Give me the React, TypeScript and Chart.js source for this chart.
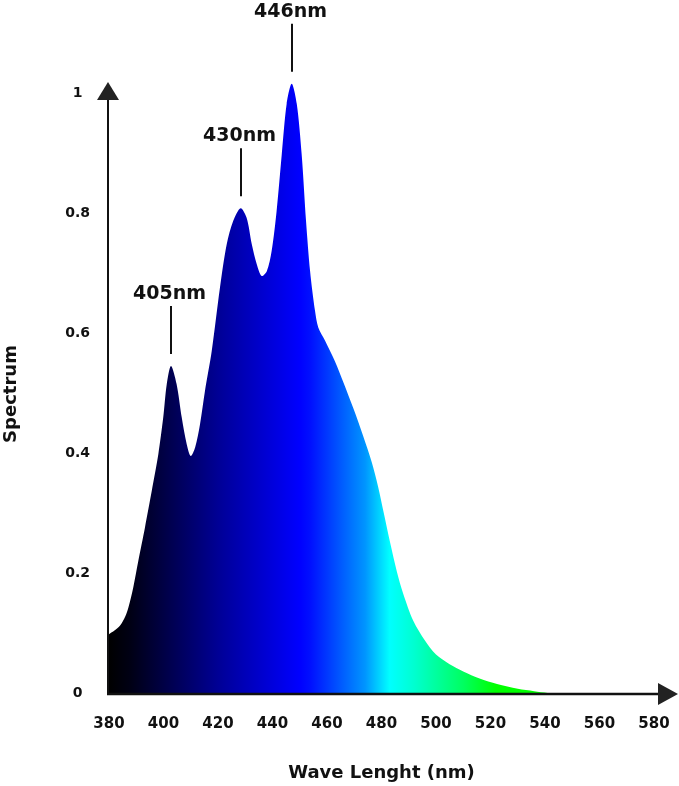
import React, { useEffect, useRef } from "react";
import { Chart, registerables } from "chart.js";

Chart.register(...registerables);

// ---- data ----
const wavelengths = [
  380, 382, 384, 386, 387.1, 388.9, 390.75, 393.2, 395.7, 398.1,
  399.9, 401.2, 402.75, 404.8, 406.7, 408.5, 410, 411.6, 413.4, 415.2,
  417.7, 420.7, 423.2, 425.6, 428.3, 430.5, 432.4, 434.2, 436, 437.9,
  439.7, 441.5, 443.4, 445.2, 447.05, 448.9, 450.7, 452.3, 453.8, 455.6,
  456.8, 459.3, 462.9, 466, 469.7, 473.3, 476.4, 478.8, 480.7, 483.1,
  485.6, 488, 491.7, 496, 500, 505, 510, 516, 522.4, 530,
  536, 541,
];
const spectrum = [
  0.098, 0.104, 0.112, 0.128, 0.142, 0.176, 0.22, 0.276, 0.337, 0.398,
  0.459, 0.515, 0.545, 0.515, 0.459, 0.415, 0.395, 0.409, 0.448, 0.503,
  0.57, 0.675, 0.748, 0.787, 0.808, 0.792, 0.748, 0.715, 0.695, 0.703,
  0.737, 0.803, 0.898, 0.982, 1.0155, 0.982, 0.898, 0.787, 0.703, 0.637,
  0.609, 0.587, 0.553, 0.518, 0.474, 0.428, 0.385, 0.343, 0.303, 0.252,
  0.203, 0.165, 0.12, 0.087, 0.064, 0.048, 0.036, 0.024, 0.015, 0.007,
  0.003, 0,
];
const xTicks = [380, 400, 420, 440, 460, 480, 500, 520, 540, 560, 580];
const yTicks = [0, 0.2, 0.4, 0.6, 0.8, 1];
const peakLabels = ["405nm", "430nm", "446nm"];
const peakWavelengths = [402.75, 428.3, 447.05];
const peakValues = [0.545, 0.808, 1.0155];

const FONT = "'DejaVu Sans', Verdana, sans-serif";

const gradientStops: [number, string][] = [
  [0, "#000000"],
  [0.04, "#000015"],
  [0.1, "#000045"],
  [0.2, "#000095"],
  [0.29, "#0000d5"],
  [0.35, "#0000ff"],
  [0.37, "#0010ff"],
  [0.41, "#0045ff"],
  [0.47, "#0095ff"],
  [0.515, "#00ffff"],
  [0.56, "#00ffd0"],
  [0.65, "#00ff60"],
  [0.71, "#00ff00"],
  [1, "#00ff00"],
];

const overlayPlugin = {
  id: "overlay",
  afterDatasetsDraw(chart: any) {
    const { ctx, chartArea, scales } = chart;
    const xs = scales.x;
    const ys = scales.y;
    const x0 = xs.getPixelForValue(xTicks[0]) - 1;
    const y0 = ys.getPixelForValue(0) + 1;
    const y1 = ys.getPixelForValue(yTicks[yTicks.length - 1]);
    ctx.save();
    ctx.strokeStyle = "#111";
    ctx.fillStyle = "#222";
    // y axis line
    ctx.lineWidth = 2;
    ctx.beginPath();
    ctx.moveTo(x0, y0 + 1);
    ctx.lineTo(x0, y1 + 7);
    ctx.stroke();
    // x axis line
    ctx.lineWidth = 2.5;
    ctx.beginPath();
    ctx.moveTo(x0 - 1, y0);
    ctx.lineTo(chartArea.right + 5, y0);
    ctx.stroke();
    // y arrow
    ctx.beginPath();
    ctx.moveTo(x0, y1 - 11);
    ctx.lineTo(x0 - 11, y1 + 7);
    ctx.lineTo(x0 + 11, y1 + 7);
    ctx.closePath();
    ctx.fill();
    // x arrow
    ctx.beginPath();
    ctx.moveTo(chartArea.right + 24, y0);
    ctx.lineTo(chartArea.right + 4, y0 - 11);
    ctx.lineTo(chartArea.right + 4, y0 + 11);
    ctx.closePath();
    ctx.fill();
    // peak annotations
    ctx.lineWidth = 2;
    ctx.strokeStyle = "#111";
    ctx.fillStyle = "#111";
    ctx.font = `bold 19px ${FONT}`;
    ctx.textAlign = "center";
    ctx.textBaseline = "alphabetic";
    for (let i = 0; i < peakLabels.length; i++) {
      const px = Math.round(xs.getPixelForValue(peakWavelengths[i]));
      const py = ys.getPixelForValue(peakValues[i]);
      ctx.beginPath();
      ctx.moveTo(px, py - 12);
      ctx.lineTo(px, py - 60);
      ctx.stroke();
      ctx.fillText(peakLabels[i], px - 1.5, py - 67);
    }
    ctx.restore();
  },
};

export default function App() {
  const ref = useRef<HTMLCanvasElement>(null);
  useEffect(() => {
    const canvas = ref.current;
    if (!canvas) return;
    const chart = new Chart(canvas, {
      type: "line",
      data: {
        datasets: [
          {
            label: "Spectrum",
            data: wavelengths.map((w, i) => ({ x: w, y: spectrum[i] })),
            fill: "origin",
            borderWidth: 0,
            borderColor: "rgba(0,0,0,0)",
            pointRadius: 0,
            cubicInterpolationMode: "default",
            tension: 0.3,
            backgroundColor: (c: any) => {
              const ch = c.chart;
              const area = ch.chartArea;
              if (!area) return "#0000ff";
              const g = ch.ctx.createLinearGradient(area.left, 0, area.right, 0);
              gradientStops.forEach(([o, col]) => g.addColorStop(o, col));
              return g;
            },
          },
        ],
      },
      options: {
        responsive: false,
        animation: false,
        layout: { padding: { top: 73, right: 25, bottom: 0, left: 0 } },
        plugins: {
          legend: { display: false },
          tooltip: { enabled: false },
        },
        events: [],
        scales: {
          x: {
            type: "linear",
            min: 380,
            max: 580,
            grid: { display: false, drawTicks: false },
            border: { display: false },
            afterBuildTicks: (s: any) => {
              s.ticks = xTicks.map((v) => ({ value: v }));
            },
            afterFit: (s: any) => {
              s.height = 71;
            },
            ticks: {
              color: "#111",
              padding: 0,
              maxRotation: 0,
              autoSkip: false,
              font: { family: FONT, size: 15, weight: "bold" },
              callback: (v: any) => String(v),
            },
            title: {
              display: true,
              text: "Wave Lenght (nm)",
              color: "#111",
              padding: { top: 0, bottom: 2 },
              font: { family: FONT, size: 18, weight: "bold" },
            },
          },
          y: {
            type: "linear",
            min: -0.036667,
            max: 1.033333,
            grid: { display: false, drawTicks: false },
            border: { display: false },
            afterBuildTicks: (s: any) => {
              s.ticks = yTicks.map((v) => ({ value: v }));
            },
            afterFit: (s: any) => {
              s.width = 109;
            },
            ticks: {
              color: "#111",
              padding: 19,
              crossAlign: "center",
              font: { family: FONT, size: 14, weight: "bold" },
              callback: (v: any) => String(v),
            },
            title: {
              display: true,
              text: "Spectrum",
              color: "#111",
              padding: { top: 1, bottom: 0 },
              font: { family: FONT, size: 18, weight: "bold" },
            },
          },
        },
      } as any,
      plugins: [overlayPlugin],
    });
    return () => chart.destroy();
  }, []);
  return (
    <div style={{ position: "absolute", left: 0, top: 0, width: 679, height: 786, background: "#fff" }}>
      <canvas ref={ref} width={679} height={786} style={{ width: 679, height: 786, display: "block" }} />
    </div>
  );
}
